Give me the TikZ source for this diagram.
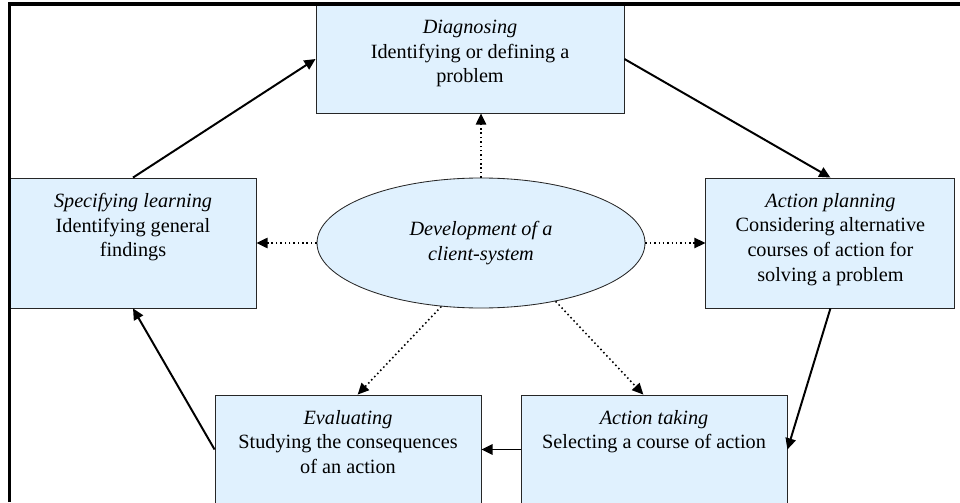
\documentclass[tikz,border=0pt]{standalone}
\usepackage{fontspec}
\setmainfont{Liberation Serif}
\usetikzlibrary{positioning,shapes.geometric,arrows.meta}
\definecolor{paleblue}{RGB}{224,241,254}
\tikzset{
  stagebox/.style={draw=black!85, line width=0.6pt, fill=paleblue},
  stagetext/.style={align=center, inner sep=0pt, font=\fontsize{14.4}{17.6}\selectfont},
  cycle/.style={line width=1.4pt, -{Triangle[length=2.8mm,width=2.6mm]}},
  influence/.style={line width=1.1pt, dotted, -{Triangle[length=2.8mm,width=2.6mm]}},
}
\begin{document}
\begin{tikzpicture}
    \clip (0,0) rectangle (24,12.55);

    % the five stages
    \node[stagebox, minimum width=7.7cm, minimum height=2.7cm] (diag) at (11.75,11.075) {};
    \node[stagebox, minimum width=6.15cm, minimum height=3.25cm] (spec) at (3.325,6.475) {};
    \node[stagebox, minimum width=6.225cm, minimum height=3.25cm] (plan) at (20.76,6.475) {};
    \node[stagebox, minimum width=6.65cm, minimum height=2.725cm] (eval) at (8.7,1.3125) {};
    \node[stagebox, minimum width=6.65cm, minimum height=2.725cm] (take) at (16.35,1.3125) {};

    \node[stagetext, below=0.38cm of diag.north] (diagtxt) {\textit{Diagnosing}\\Identifying or defining a\\problem};
    \node[stagetext, below=0.38cm of spec.north] (spectxt) {\textit{Specifying learning}\\Identifying general\\findings};
    \node[stagetext, below=0.38cm of plan.north] (plantxt) {\textit{Action planning}\\Considering alternative\\courses of action for\\solving a problem};
    \node[stagetext, below=0.38cm of eval.north] (evaltxt) {\textit{Evaluating}\\Studying the consequences\\of an action};
    \node[stagetext, below=0.38cm of take.north] (taketxt) {\textit{Action taking}\\Selecting a course of action};

    % centre
    \node[stagebox, stagetext, ellipse, minimum width=8.2cm, minimum height=3.25cm] (devel) at (12.025,6.475)
        {\itshape Development of a\\\itshape client-system};

    \foreach \a/\b in {spec.north/diag.west, diag.east/plan.north, plan.south/take.east,
                       take.west/eval.east, eval.west/spec.south}
        \draw[cycle] (\a) -- (\b);

    \draw[influence] (devel.north) -- (devel.north |- diag.south);
    \foreach \a/\b in {devel.west/spec.east, devel.east/plan.west, devel.-122/eval.80, devel.-38/take.101}
        \draw[influence] (\a) -- (\b);

    % frame
    \draw[line width=2.2pt] (0.24,0) |- (24,12.45);
\end{tikzpicture}
\end{document}
